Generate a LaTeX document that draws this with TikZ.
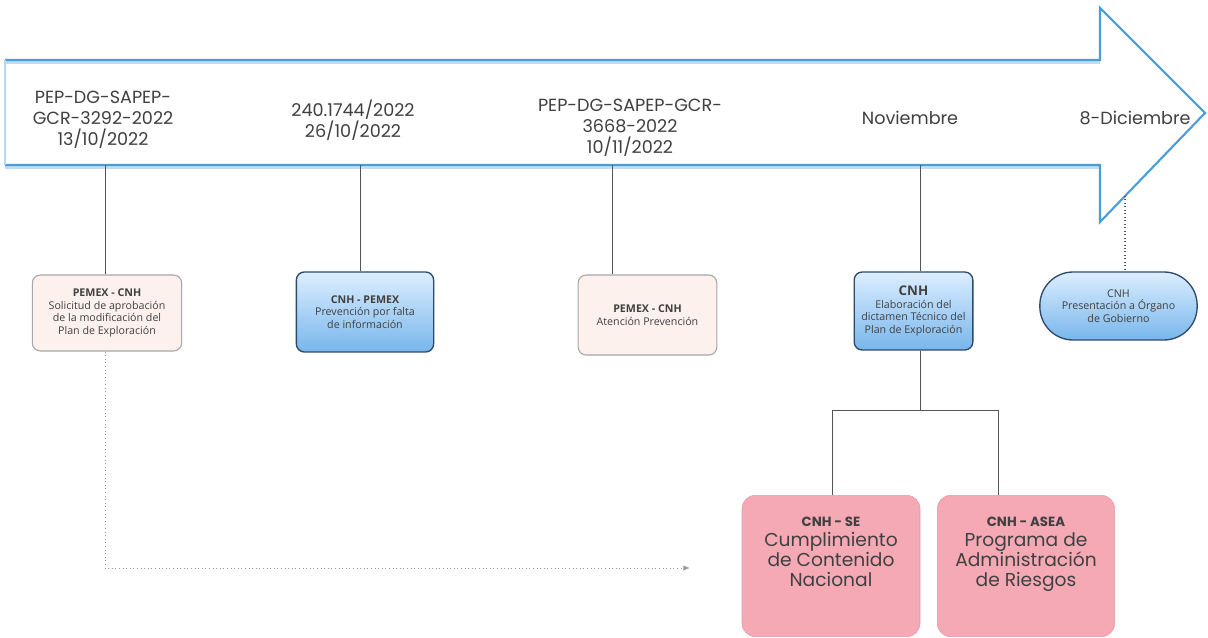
\documentclass[tikz,border=0pt]{standalone}
\usepackage{fontspec}
\setmainfont{Poppins}
\newfontfamily\boxfont{Open Sans}
\usetikzlibrary{arrows.meta}
\definecolor{arrowblue}{HTML}{4A9ED8}
\definecolor{txt}{HTML}{404040}
\definecolor{navy}{HTML}{2E4A6A}
\definecolor{bluetop}{HTML}{DCEEFF}
\definecolor{bluebot}{HTML}{78B6EC}
\definecolor{lightpink}{HTML}{FDF1EE}
\definecolor{pinkbox}{HTML}{F5A9B5}
\definecolor{pinkedge}{HTML}{E89AA6}
\definecolor{conn}{HTML}{555555}
\begin{document}
\begin{tikzpicture}[x=0.75pt,y=-0.75pt,
  lbl/.style={align=center,text=txt,font=\fontsize{13.2}{15.6}\selectfont},
  smallbox/.style={draw=#1,line width=0.8pt,rounded corners=6pt,align=center,text=txt,
    font=\boxfont\fontsize{8}{9.5}\selectfont,inner sep=2pt},
  paleb/.style={smallbox=gray!70,fill=lightpink},
  blueb/.style={smallbox=navy,top color=bluetop,bottom color=bluebot,line width=1pt},
  bigbox/.style={draw=pinkedge,fill=pinkbox,rounded corners=10pt,align=center,text=txt,
    font=\fontsize{14}{15}\selectfont,minimum height=106pt},
  connline/.style={draw=conn,line width=0.6pt},
  dotline/.style={draw=gray!80,line width=0.7pt,dotted}
]
\useasboundingbox (0,0) rectangle (1208,638);
% timeline arrow
\fill[white] (5,60) -- (1100,60) -- (1100,8) -- (1205,113) -- (1100,222) -- (1100,165) -- (5,165) -- cycle;
\draw[arrowblue!35,line width=3pt] (5,62) -- (1100,62);
\draw[arrowblue!35,line width=3pt] (5,167) -- (1100,167);
\draw[arrowblue,line width=1.6pt,line join=miter]
  (5,60) -- (1100,60) -- (1100,8) -- (1205,113) -- (1100,222) -- (1100,165) -- (5,165);
\draw[arrowblue!40,line width=0.8pt] (5,60) -- (5,165);

% labels on the arrow
\node[lbl] (l1) at (103,120) {PEP-DG-SAPEP-\\GCR-3292-2022\\13/10/2022};
\node[lbl] (l2) at (353,120) {240.1744/2022\\26/10/2022};
\node[lbl] (l3) at (630,128) {PEP-DG-SAPEP-GCR-\\3668-2022\\10/11/2022};
\node[lbl] (l4) at (910,118) {Noviembre};
\node[lbl] (l5) at (1135,118) {8-Diciembre};

% boxes
\node[paleb,minimum width=112pt,minimum height=57pt] (b1) at (107,313)
  {\textbf{PEMEX - CNH}\\Solicitud de aprobación\\de la modificación del\\Plan de Exploración};
\node[blueb,minimum width=103pt,minimum height=60pt] (b2) at (365,312)
  {\textbf{CNH - PEMEX}\\Prevención por falta\\de información};
\node[paleb,minimum width=104pt,minimum height=60pt] (b3) at (647.5,315)
  {\textbf{PEMEX - CNH}\\Atención Prevención};
\node[blueb,minimum width=89pt,minimum height=58.5pt] (b4) at (913.5,311)
  {{\fontsize{10}{11}\selectfont\textbf{CNH}}\\Elaboración del\\dictamen Técnico del\\Plan de Exploración};
\node[blueb,rounded corners=25pt,minimum width=118pt,minimum height=51pt] (b5) at (1118.5,306)
  {CNH\\Presentación a Órgano\\de Gobierno};
\node[bigbox,minimum width=133.5pt] (b6) at (831,566)
  {{\fontsize{10}{12}\selectfont\textbf{CNH - SE}}\\Cumplimiento\\de Contenido\\Nacional\\[6pt]};
\node[bigbox,minimum width=133pt] (b7) at (1026,566)
  {{\fontsize{10}{12}\selectfont\textbf{CNH - ASEA}}\\Programa de\\Administración\\de Riesgos\\[6pt]};

% connectors from the timeline
\coordinate (t1) at (105,165);
\coordinate (t2) at (360,165);
\coordinate (t3) at (612,165);
\coordinate (t4) at (920,165);
\coordinate (t5) at (1125,196);
\draw[connline] (t1) -- (t1 |- b1.north);
\draw[connline] (t2) -- (t2 |- b2.north);
\draw[connline] (t3) -- (t3 |- b3.north);
\draw[connline] (t4) -- (t4 |- b4.north);
\draw[connline,dotted,line width=0.9pt] (t5) -- (t5 |- b5.north);

% branch from b4 to b6 and b7
\coordinate (j6) at (832,410);
\coordinate (j7) at (998,410);
\draw[connline] (t4 |- b4.south) -- (t4 |- j6);
\draw[connline] (j6 |- b6.north) -- (j6) -- (j7) -- (j7 |- b7.north);

% dotted connector from b1
\coordinate (d1) at (105,568);
\coordinate (dend) at (690,568);
\draw[dotline,-{Latex[length=5pt,width=4pt]}] (t1 |- b1.south) -- (d1) -- (dend);
\end{tikzpicture}
\end{document}
